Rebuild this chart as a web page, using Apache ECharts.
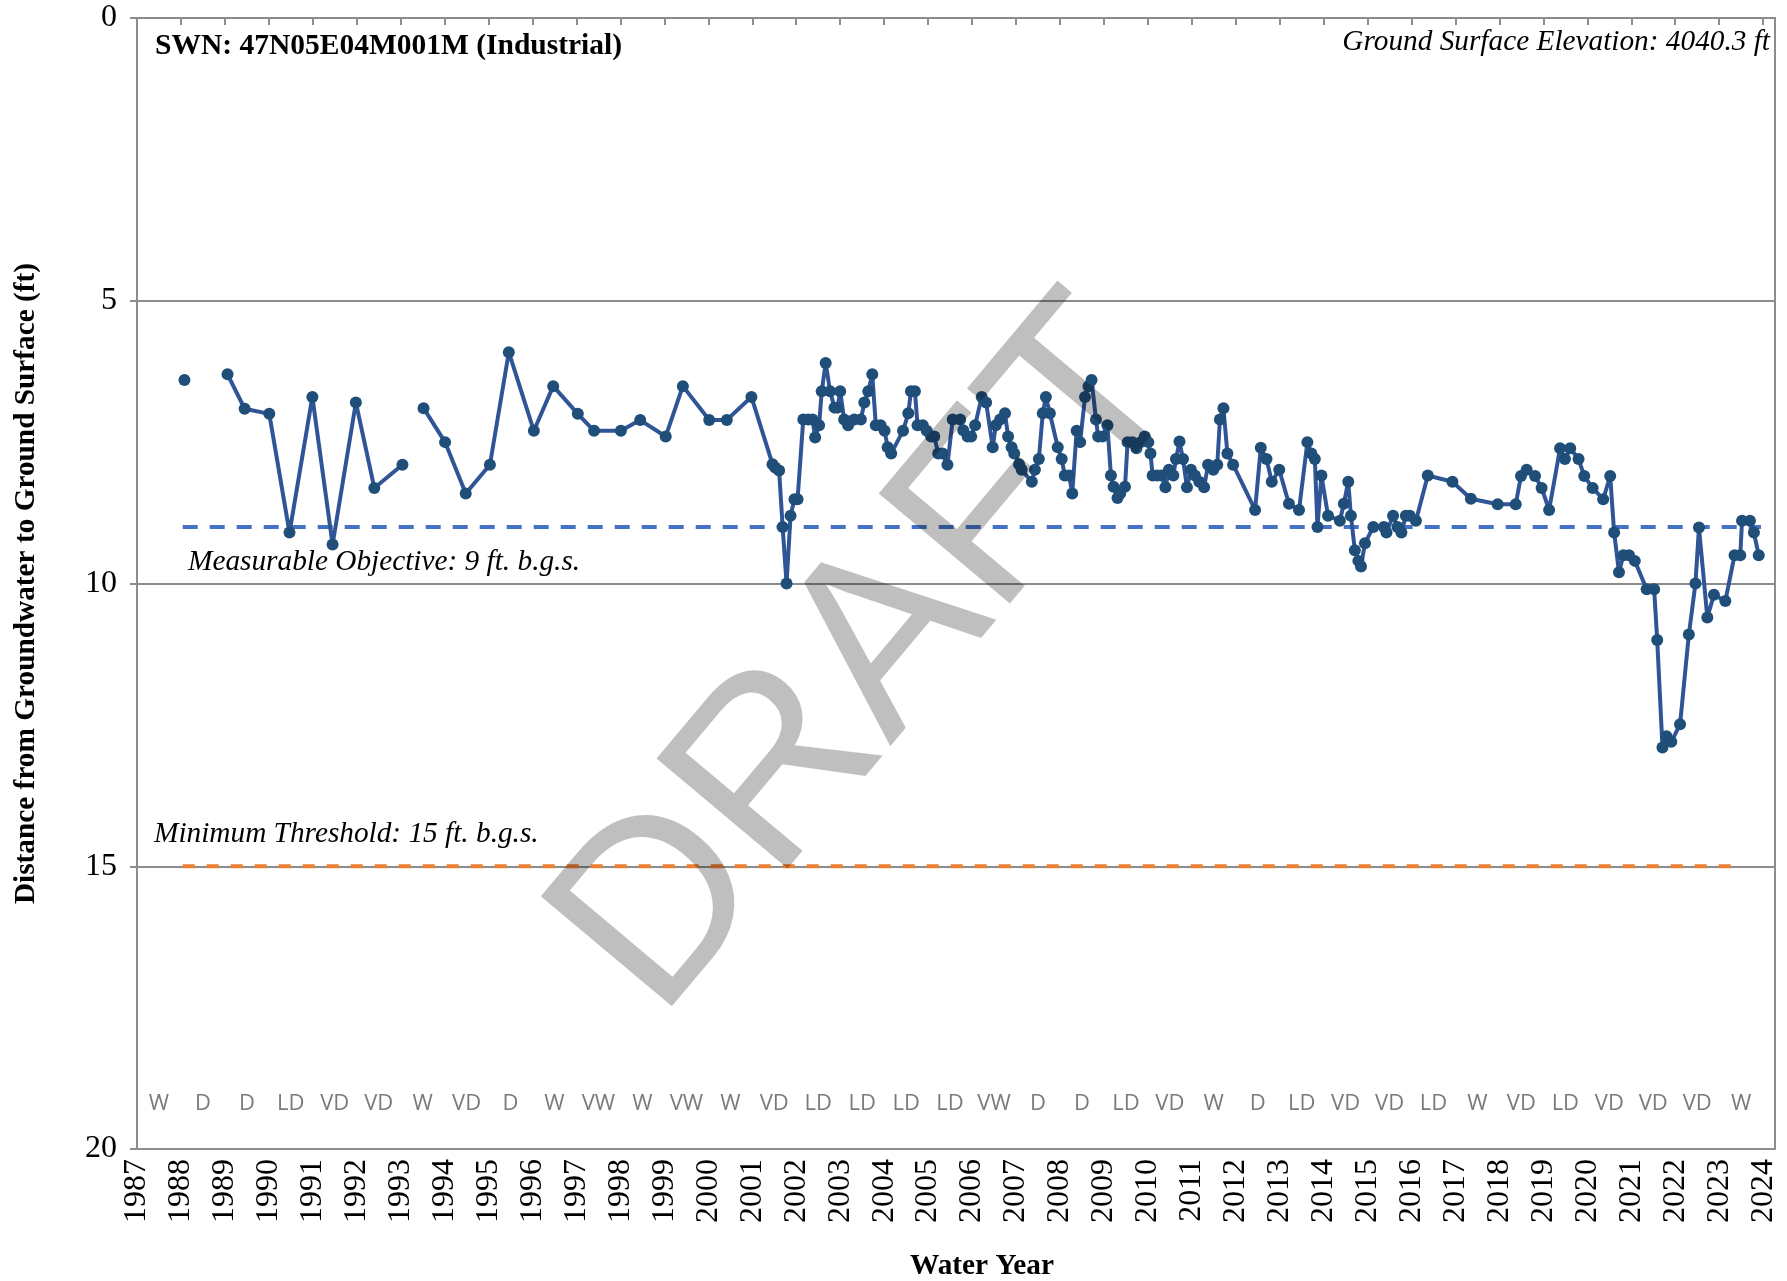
<!DOCTYPE html>
<html>
<head>
<meta charset="utf-8">
<script src="https://cdn.jsdelivr.net/npm/echarts@6/dist/echarts.min.js"></script>
<style>
html,body{margin:0;padding:0;background:#fff;}
#chart{width:1787px;height:1281px;}
</style>
</head>
<body>
<div id="chart"></div>
<script>
// ---- Data (decimal water-year dates, depth to water in ft b.g.s.; null = gap) ----
const dates = [
1988.08, 1988.5, 1989.06, 1989.45, 1990.01, 1990.47, 1990.99, 1991.45, 1991.98, 1992.40, 1993.04, 1993.3,
1993.52, 1994.01, 1994.48, 1995.03, 1995.46, 1996.03, 1996.47, 1997.03, 1997.40, 1998.01, 1998.45,
1999.03, 1999.42, 2000.02, 2000.42, 2000.98, 2001.46, 2001.52, 2001.61, 2001.69, 2001.78, 2001.87,
2001.96, 2002.03, 2002.16, 2002.27, 2002.37, 2002.43, 2002.52, 2002.58, 2002.67, 2002.77, 2002.87,
2002.94, 2003.00, 2003.09, 2003.18, 2003.32, 2003.47, 2003.55, 2003.64, 2003.73, 2003.81, 2003.92,
2004.01, 2004.08, 2004.16, 2004.43, 2004.55, 2004.61, 2004.70, 2004.76, 2004.88, 2004.97, 2005.07,
2005.14, 2005.23, 2005.33, 2005.44, 2005.56, 2005.73, 2005.80, 2005.90, 2005.98, 2006.07, 2006.22,
2006.32, 2006.47, 2006.54, 2006.64, 2006.75, 2006.82, 2006.90, 2006.96, 2007.07, 2007.13, 2007.36,
2007.43, 2007.52, 2007.61, 2007.68, 2007.77, 2007.95, 2008.04, 2008.11, 2008.21, 2008.28, 2008.38,
2008.46, 2008.57, 2008.65, 2008.72, 2008.82, 2008.87, 2008.97, 2009.08, 2009.16, 2009.22, 2009.31,
2009.37, 2009.48, 2009.54, 2009.65, 2009.74, 2009.84, 2009.93, 2010.01, 2010.06, 2010.11, 2010.21,
2010.31, 2010.40, 2010.48, 2010.58, 2010.64, 2010.72, 2010.80, 2010.89, 2010.98, 2011.07, 2011.17,
2011.28, 2011.37, 2011.49, 2011.58, 2011.64, 2011.72, 2011.81, 2011.94, 2012.44, 2012.57, 2012.70,
2012.82, 2012.99, 2013.21, 2013.44, 2013.63, 2013.72, 2013.80, 2013.86, 2013.95, 2014.10, 2014.37,
2014.46, 2014.56, 2014.62, 2014.71, 2014.79, 2014.85, 2014.94, 2015.13, 2015.37, 2015.43, 2015.58,
2015.68, 2015.77, 2015.87, 2015.96, 2016.10, 2016.37, 2016.93, 2017.35, 2017.96, 2018.37, 2018.49,
2018.62, 2018.81, 2018.96, 2019.13, 2019.38, 2019.49, 2019.61, 2019.80, 2019.93, 2020.12, 2020.36,
2020.52, 2020.61, 2020.72, 2020.82, 2020.95, 2021.08, 2021.35, 2021.52, 2021.59, 2021.71, 2021.80,
2021.91, 2022.11, 2022.31, 2022.46, 2022.54, 2022.73, 2022.88, 2023.14, 2023.35, 2023.48, 2023.52,
2023.70, 2023.79, 2023.90
];
const depths = [
6.40, null, 6.30, 6.91, 7.00, 9.10, 6.70, 9.31, 6.80, 8.31, 7.90, null,
6.90, 7.50, 8.41, 7.90, 5.91, 7.30, 6.51, 7.00, 7.30, 7.30, 7.11,
7.40, 6.51, 7.11, 7.11, 6.70, 7.89, 7.95, 8.00, 9.00, 10.00, 8.80,
8.51, 8.51, 7.10, 7.10, 7.10, 7.42, 7.20, 6.60, 6.10, 6.60, 6.89,
6.89, 6.60, 7.10, 7.20, 7.10, 7.10, 6.80, 6.60, 6.30, 7.20, 7.20,
7.30, 7.59, 7.70, 7.30, 6.99, 6.60, 6.60, 7.20, 7.20, 7.30, 7.40,
7.40, 7.70, 7.70, 7.90, 7.10, 7.10, 7.29, 7.40, 7.40, 7.20, 6.70,
6.80, 7.59, 7.20, 7.10, 6.99, 7.40, 7.59, 7.70, 7.89, 7.99, 8.20,
7.99, 7.80, 6.99, 6.70, 6.99, 7.59, 7.80, 8.09, 8.09, 8.41, 7.30,
7.50, 6.70, 6.51, 6.40, 7.10, 7.40, 7.40, 7.20, 8.09, 8.29, 8.49,
8.41, 8.29, 7.50, 7.50, 7.61, 7.50, 7.40, 7.50, 7.70, 8.09, 8.09,
8.09, 8.30, 7.99, 8.09, 7.80, 7.49, 7.80, 8.30, 7.99, 8.09, 8.20,
8.30, 7.90, 7.99, 7.90, 7.10, 6.90, 7.70, 7.90, 8.70, 7.60, 7.80,
8.20, 7.99, 8.59, 8.70, 7.50, 7.70, 7.80, 9.00, 8.09, 8.80, 8.89,
8.59, 8.20, 8.80, 9.41, 9.60, 9.70, 9.29, 9.00, 9.00, 9.10, 8.80,
9.00, 9.10, 8.80, 8.80, 8.89, 8.09, 8.20, 8.50, 8.60, 8.60, 8.10,
7.99, 8.10, 8.31, 8.70, 7.61, 7.80, 7.61, 7.80, 8.10, 8.31, 8.51,
8.10, 9.10, 9.80, 9.50, 9.50, 9.60, 10.10, 10.10, 11.00, 12.90, 12.70,
12.80, 12.49, 10.90, 10.00, 9.01, 10.60, 10.20, 10.31, 9.50, 9.50, 8.89,
8.89, 9.10, 9.50
];
const moValue = 9;          // Measurable Objective (ft b.g.s.)
const mtValue = 15;         // Minimum Threshold (ft b.g.s.)
const moRange = [1988.04, 2023.95];
const mtRange = [1988.04, 2023.45];
const wyYears = [1987,1988,1989,1990,1991,1992,1993,1994,1995,1996,1997,1998,1999,2000,2001,2002,2003,2004,2005,
                 2006,2007,2008,2009,2010,2011,2012,2013,2014,2015,2016,2017,2018,2019,2020,2021,2022,2023];
const wyTypes = ['W','D','D','LD','VD','VD','W','VD','D','W','VW','W','VW','W','VD','LD','LD','LD','LD',
                 'VW','D','D','LD','VD','W','D','LD','VD','VD','LD','W','VD','LD','VD','VD','VD','W'];
const wyLabelDepth = 19.2;
const yTicks = [0, 5, 10, 15, 20];
const xRange = [1987, 2024.27];

const serif = '"Liberation Serif","Times New Roman",serif';
const chart = echarts.init(document.getElementById('chart'), null, {renderer: 'canvas'});

const levelData = dates.map((d, i) => [d, depths[i] === null ? '-' : depths[i]]);
const moData = moRange.map(x => [x, moValue]);
const mtData = mtRange.map(x => [x, mtValue]);
const wyData = wyYears.map((y, i) => ({value: [y + 0.5, wyLabelDepth], name: wyTypes[i]}));

chart.setOption({
  animation: false,
  backgroundColor: '#ffffff',
  grid: {left: 137, right: 12, top: 18, bottom: 132, show: true, borderColor: '#8c8c8c', borderWidth: 2, containLabel: false},
  xAxis: {
    type: 'value', min: xRange[0], max: xRange[1], interval: 1,
    axisLine: {show: true, lineStyle: {color: '#8c8c8c', width: 2}},
    axisTick: {show: true, length: 7, lineStyle: {color: '#8c8c8c', width: 2}},
    axisLabel: {rotate: 90, margin: 10, fontFamily: serif, fontSize: 32, color: '#000',
                showMaxLabel: false, formatter: v => (Number.isInteger(v) ? String(v) : '')},
    splitLine: {show: false}
  },
  yAxis: {
    type: 'value', min: yTicks[0], max: yTicks[yTicks.length - 1], interval: 5, inverse: true,
    name: 'Distance from Groundwater to Ground Surface (ft)', nameLocation: 'middle', nameGap: 96,
    nameTextStyle: {fontFamily: serif, fontWeight: 'bold', fontSize: 29.3, color: '#000'},
    axisLine: {show: true, lineStyle: {color: '#8c8c8c', width: 2}},
    axisTick: {show: true, length: 7, lineStyle: {color: '#8c8c8c', width: 2}},
    axisLabel: {margin: 20, fontFamily: serif, fontSize: 32, color: '#000'},
    splitLine: {show: true, lineStyle: {color: '#8c8c8c', width: 2}}
  },
  series: [
    {
      type: 'line', name: 'MT', data: mtData, symbol: 'none', z: 3,
      lineStyle: {color: '#ED7D31', width: 4, type: [12, 12]}
    },
    {
      type: 'line', name: 'MO', data: moData, symbol: 'none', z: 3,
      lineStyle: {color: '#4472C4', width: 4, type: [15, 12]}
    },
    {
      type: 'line', name: 'Groundwater level', data: levelData, connectNulls: false,
      symbol: 'circle', symbolSize: 12, showAllSymbol: true, z: 5,
      lineStyle: {color: '#2F5597', width: 4},
      itemStyle: {color: '#1F4E79', borderWidth: 0}
    },
    {
      type: 'scatter', name: 'Water year type', data: wyData, symbolSize: 0, z: 4,
      label: {show: true, position: 'inside', formatter: p => p.name,
              fontFamily: '"Liberation Sans Narrow","Open Sans",sans-serif', fontSize: 22, color: '#595959'}
    }
  ],
  graphic: [
    {type: 'text', left: 155, top: 31, z: 10,
     style: {text: 'SWN: 47N05E04M001M (Industrial)', fontFamily: serif, fontWeight: 'bold', fontSize: 29.5, fill: '#000'}},
    {type: 'text', right: 17, top: 28, z: 10,
     style: {text: 'Ground Surface Elevation: 4040.3 ft', fontFamily: serif, fontStyle: 'italic', fontSize: 29.3, fill: '#000'}},
    {type: 'text', left: 188, top: 548, z: 10,
     style: {text: 'Measurable Objective: 9 ft. b.g.s.', fontFamily: serif, fontStyle: 'italic', fontSize: 29.3, fill: '#000'}},
    {type: 'text', left: 154, top: 820, z: 10,
     style: {text: 'Minimum Threshold: 15 ft. b.g.s.', fontFamily: serif, fontStyle: 'italic', fontSize: 29.3, fill: '#000'}},
    {type: 'text', left: 910, top: 1252, z: 10,
     style: {text: 'Water Year', fontFamily: serif, fontWeight: 'bold', fontSize: 29.3, fill: '#000'}},
    {type: 'text', x: 873, y: 660, rotation: 50 * Math.PI / 180, z: 100,
     style: {text: 'DRAFT', fontFamily: '"Liberation Sans",Arial,sans-serif', fontSize: 249,
             fill: 'rgba(0,0,0,0.25)', align: 'center', verticalAlign: 'middle'}}
  ]
});
</script>
</body>
</html>
